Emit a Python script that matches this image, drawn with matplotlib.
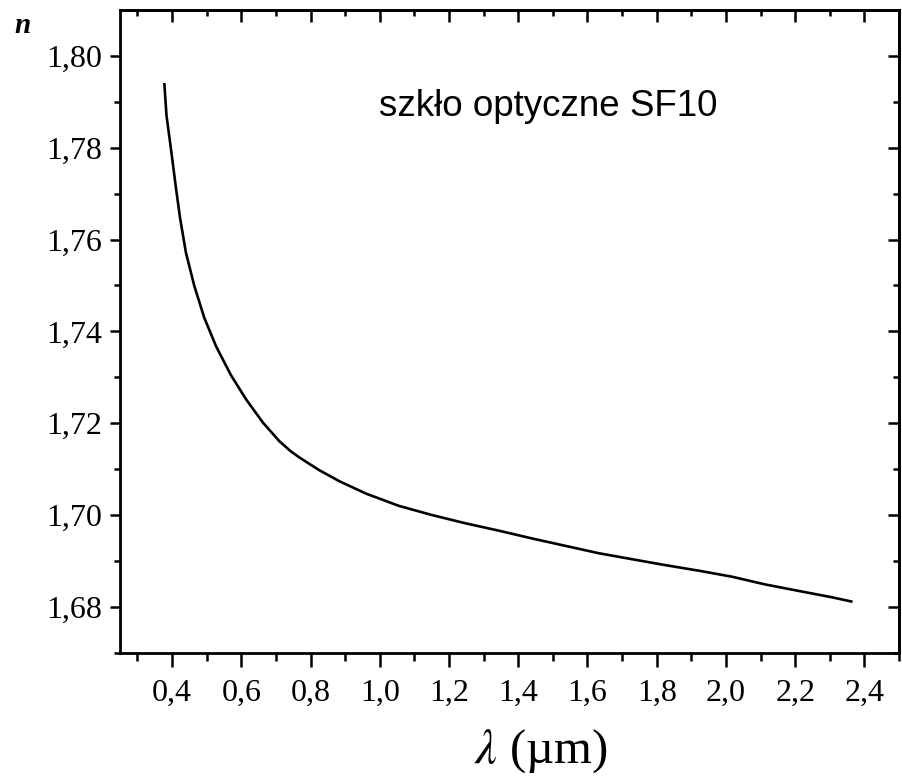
import matplotlib
matplotlib.use("Agg")
import matplotlib.pyplot as plt

plt.rcParams['font.family'] = ['Liberation Serif', 'DejaVu Serif']
plt.rcParams['mathtext.fontset'] = 'stix'

# wavelength (um) and refractive index
wavelength = [0.378, 0.384, 0.397, 0.410, 0.423, 0.440, 0.464, 0.493, 0.527,
              0.570, 0.614, 0.662, 0.710, 0.743, 0.767, 0.825, 0.883, 0.960,
              1.056, 1.152, 1.249, 1.345, 1.441, 1.537, 1.633, 1.729, 1.826,
              1.922, 2.017, 2.114, 2.210, 2.307, 2.362]
n_index = [1.7938, 1.7870, 1.7797, 1.7720, 1.7648, 1.7572, 1.7500, 1.7430, 1.7368,
           1.7305, 1.7252, 1.7202, 1.7161, 1.7139, 1.7126, 1.7098, 1.7074, 1.7047,
           1.7020, 1.7000, 1.6982, 1.6966, 1.6949, 1.6933, 1.6917, 1.6904, 1.6891,
           1.6879, 1.6866, 1.6849, 1.6835, 1.6821, 1.6812]

x_ticks = [0.4, 0.6, 0.8, 1.0, 1.2, 1.4, 1.6, 1.8, 2.0, 2.2, 2.4]
x_minor = [0.3, 0.5, 0.7, 0.9, 1.1, 1.3, 1.5, 1.7, 1.9, 2.1, 2.3, 2.5]
y_ticks = [1.68, 1.70, 1.72, 1.74, 1.76, 1.78, 1.80]
y_minor = [1.67, 1.69, 1.71, 1.73, 1.75, 1.77, 1.79]


def comma(v, nd):
    return f"{v:.{nd}f}".replace('.', ',')


fig = plt.figure(figsize=(9.03, 7.81), dpi=100)
ax = fig.add_axes([0.133, 0.164, 0.8626, 0.8233])

ax.plot(wavelength, n_index, color='black', linewidth=1.9)

ax.set_xlim(0.25, 2.5)
ax.set_ylim(1.67, 1.81)

ax.set_xticks(x_ticks)
ax.set_xticks(x_minor, minor=True)
ax.set_yticks(y_ticks)
ax.set_yticks(y_minor, minor=True)
ax.set_xticklabels([comma(v, 1) for v in x_ticks])
ax.set_yticklabels([comma(v, 2) for v in y_ticks])

for s in ax.spines.values():
    s.set_linewidth(2.0)

ax.tick_params(axis='x', which='major', direction='out', length=10, width=1.8,
               pad=9, labelsize=23)
ax.tick_params(axis='x', which='minor', direction='out', length=5.5, width=1.8)
ax.tick_params(axis='y', which='major', direction='out', length=7, width=1.8,
               pad=6, labelsize=23)
ax.tick_params(axis='y', which='minor', direction='out', length=4, width=1.8)

# inward ticks on top and right, no labels
top = ax.secondary_xaxis('top')
top.set_xticks(x_ticks)
top.set_xticks(x_minor, minor=True)
top.tick_params(which='major', direction='in', length=8.5, width=1.8, labeltop=False)
top.tick_params(which='minor', direction='in', length=4, width=1.8)
top.spines['top'].set_linewidth(2.0)

right = ax.secondary_yaxis('right')
right.set_yticks(y_ticks)
right.set_yticks(y_minor, minor=True)
right.tick_params(which='major', direction='in', length=8, width=1.8, labelright=False)
right.tick_params(which='minor', direction='in', length=4.5, width=1.8)
right.spines['right'].set_linewidth(2.0)

ax.text(0.998, 1.787, 'szkło optyczne SF10', family='Liberation Sans',
        fontsize=26.5, va='baseline', ha='left')

fig.text(541 / 903, 1 - 763 / 781, r'$\lambda$ (µm)', fontsize=35,
         ha='center', va='baseline')
fig.text(23 / 903, 1 - 33 / 781, 'n', fontsize=21, fontweight='bold',
         fontstyle='italic', ha='center', va='baseline')

fig.savefig('out.png', dpi=100)
